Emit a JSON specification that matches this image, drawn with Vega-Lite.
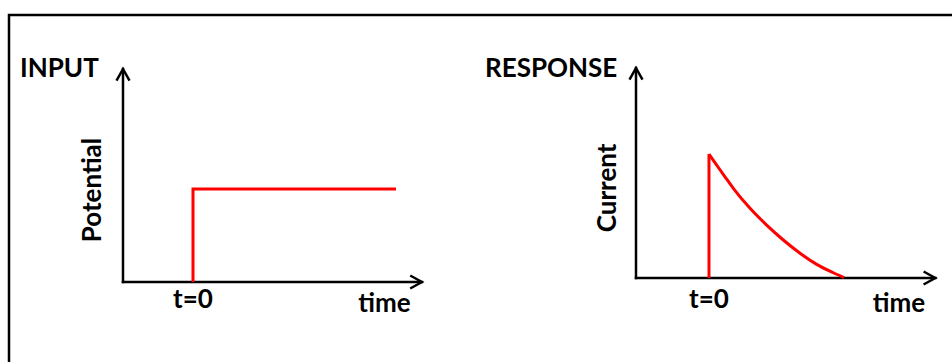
{
  "$schema": "https://vega.github.io/schema/vega-lite/v6.json",
  "width": 946,
  "height": 350,
  "autosize": {"type": "none"},
  "padding": {"left": 9, "top": 15, "right": -3, "bottom": -3},
  "background": "white",
  "config": {
    "view": {"stroke": "black", "strokeWidth": 2.5},
    "axis": {"disable": true},
    "text": {"font": "Lato", "fontWeight": "bold", "fontSize": 26, "color": "black"}
  },
  "datasets": {
    "input": [
      {"time": 0, "potential": 0, "i": 0},
      {"time": 0, "potential": 4.37, "i": 1},
      {"time": 2.9, "potential": 4.37, "i": 2}
    ],
    "response": [
      {"time": 0, "current": 5.9},
      {"time": 0.105, "current": 5.38},
      {"time": 0.219, "current": 4.82},
      {"time": 0.333, "current": 4.27},
      {"time": 0.562, "current": 3.32},
      {"time": 0.79, "current": 2.52},
      {"time": 1.018, "current": 1.81},
      {"time": 1.247, "current": 1.18},
      {"time": 1.475, "current": 0.65},
      {"time": 1.703, "current": 0.25},
      {"time": 1.85, "current": 0.02}
    ],
    "one": [{}]
  },
  "layer": [
    {
      "layer": [
        {
          "data": {"name": "one"},
          "mark": {"type": "rule", "color": "black", "strokeWidth": 2.5, "strokeCap": "square"},
          "encoding": {
            "x": {"datum": -1, "type": "quantitative", "scale": {"domain": [-2.6286, 10.8857], "nice": false, "zero": false}},
            "y": {"datum": 0, "type": "quantitative", "scale": {"domain": [-3.8967, 12.5352], "nice": false, "zero": false}},
            "y2": {"datum": 10}
          }
        },
        {
          "data": {"name": "one"},
          "mark": {"type": "rule", "color": "black", "strokeWidth": 2.5, "strokeCap": "square"},
          "encoding": {"x": {"datum": -1}, "x2": {"datum": 3.27}, "y": {"datum": 0}}
        },
        {
          "data": {"name": "one"},
          "mark": {"type": "point", "shape": "M-1,1.8L0,0L1,1.8", "size": 169, "filled": false, "stroke": "black", "strokeWidth": 2.5, "opacity": 1},
          "encoding": {"x": {"datum": -1}, "y": {"datum": 10}}
        },
        {
          "data": {"name": "one"},
          "mark": {"type": "point", "shape": "M-1.8,-1L0,0L-1.8,1", "size": 169, "filled": false, "stroke": "black", "strokeWidth": 2.5, "opacity": 1},
          "encoding": {"x": {"datum": 3.27}, "y": {"datum": 0}}
        },
        {
          "data": {"name": "input"},
          "mark": {"type": "line", "color": "#ff0000", "strokeWidth": 3},
          "encoding": {
            "x": {"field": "time", "type": "quantitative"},
            "y": {"field": "potential", "type": "quantitative"},
            "order": {"field": "i"}
          }
        },
        {
          "data": {"name": "one"},
          "mark": {"type": "text", "text": "INPUT", "align": "left", "baseline": "alphabetic"},
          "encoding": {"x": {"datum": -2.471}, "y": {"datum": 9.62}}
        },
        {
          "data": {"name": "one"},
          "mark": {"type": "text", "text": "Potential", "angle": 270, "align": "center", "baseline": "middle"},
          "encoding": {"x": {"datum": -1.4286}, "y": {"datum": 4.32}}
        },
        {
          "data": {"name": "one"},
          "mark": {"type": "text", "text": "t=0", "align": "center", "baseline": "alphabetic"},
          "encoding": {"x": {"datum": 0}, "y": {"datum": -1.22}}
        },
        {
          "data": {"name": "one"},
          "mark": {"type": "text", "text": "time", "align": "center", "baseline": "alphabetic"},
          "encoding": {"x": {"datum": 2.736}, "y": {"datum": -1.41}}
        }
      ]
    },
    {
      "layer": [
        {
          "data": {"name": "one"},
          "mark": {"type": "rule", "color": "black", "strokeWidth": 2.5, "strokeCap": "square"},
          "encoding": {
            "x": {"datum": -1, "type": "quantitative", "scale": {"domain": [-9.589, 3.3699], "nice": false, "zero": false}},
            "y": {"datum": 0, "type": "quantitative", "scale": {"domain": [-4.1429, 12.5238], "nice": false, "zero": false}},
            "y2": {"datum": 10}
          }
        },
        {
          "data": {"name": "one"},
          "mark": {"type": "rule", "color": "black", "strokeWidth": 2.5, "strokeCap": "square"},
          "encoding": {"x": {"datum": -1}, "x2": {"datum": 3.1}, "y": {"datum": 0}}
        },
        {
          "data": {"name": "one"},
          "mark": {"type": "point", "shape": "M-1,1.8L0,0L1,1.8", "size": 169, "filled": false, "stroke": "black", "strokeWidth": 2.5, "opacity": 1},
          "encoding": {"x": {"datum": -1}, "y": {"datum": 10}}
        },
        {
          "data": {"name": "one"},
          "mark": {"type": "point", "shape": "M-1.8,-1L0,0L-1.8,1", "size": 169, "filled": false, "stroke": "black", "strokeWidth": 2.5, "opacity": 1},
          "encoding": {"x": {"datum": 3.1}, "y": {"datum": 0}}
        },
        {
          "data": {"name": "response"},
          "transform": [{"filter": "datum.time == 0"}],
          "mark": {"type": "rule", "color": "#ff0000", "strokeWidth": 3},
          "encoding": {
            "x": {"field": "time", "type": "quantitative"},
            "y": {"field": "current", "type": "quantitative"},
            "y2": {"datum": 0}
          }
        },
        {
          "data": {"name": "response"},
          "mark": {"type": "line", "color": "#ff0000", "strokeWidth": 3, "interpolate": "monotone"},
          "encoding": {
            "x": {"field": "time", "type": "quantitative"},
            "y": {"field": "current", "type": "quantitative"}
          }
        },
        {
          "data": {"name": "one"},
          "mark": {"type": "text", "text": "RESPONSE", "align": "left", "baseline": "alphabetic"},
          "encoding": {"x": {"datum": -3.068}, "y": {"datum": 9.57}}
        },
        {
          "data": {"name": "one"},
          "mark": {"type": "text", "text": "Current", "angle": 270, "align": "center", "baseline": "middle"},
          "encoding": {"x": {"datum": -1.384}, "y": {"datum": 4.29}}
        },
        {
          "data": {"name": "one"},
          "mark": {"type": "text", "text": "t=0", "align": "center", "baseline": "alphabetic"},
          "encoding": {"x": {"datum": 0}, "y": {"datum": -1.43}}
        },
        {
          "data": {"name": "one"},
          "mark": {"type": "text", "text": "time", "align": "center", "baseline": "alphabetic"},
          "encoding": {"x": {"datum": 2.603}, "y": {"datum": -1.62}}
        }
      ]
    }
  ],
  "resolve": {"scale": {"x": "independent", "y": "independent"}}
}
